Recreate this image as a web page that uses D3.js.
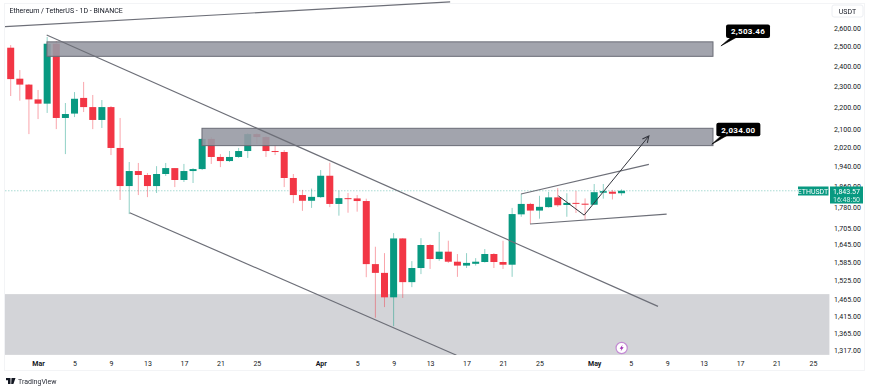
<!DOCTYPE html>
<html>
<head>
<meta charset="utf-8">
<script src="https://cdn.jsdelivr.net/npm/d3@7"></script>
<style>
  html, body { margin: 0; padding: 0; background: #fff; }
  svg { display: block; filter: blur(0.3px); }
  text { font-family: Roboto, sans-serif; fill: #131722; }
</style>
</head>
<body>
<svg id="chart" width="870" height="390"></svg>
<script>
// days are counted from Mar 1, prices are USDT
const firstDay = -3;
const opens = [2494,2336,2307,2236,2216,2515,2150,2170,2243,2200,2141,2200,2018,1862,1922,1906,1862,1910,1934,1886,1922,1930,2057,1980,1963,1980,2005,2078,2065,2005,2001,1894,1827,1805,1819,1903,1793,1815,1814,1804,1579,1550,1472,1667,1520,1566,1644,1596,1621,1587,1574,1580,1586,1613,1586,1577,1754,1793,1768,1781,1818,1789,1797,1794,1790,1836,1840,1834];
const highs = [2508,2379,2310,2281,2551,2530,2219,2271,2320,2257,2233,2205,2150,1959,1955,1914,1942,1955,1934,1951,1934,2061,2065,1992,2005,2018,2083,2083,2070,2031,2009,1910,1847,1852,1926,1956,1844,1835,1827,1813,1638,1616,1686,1668,1589,1668,1647,1690,1659,1613,1616,1599,1630,1616,1659,1778,1831,1797,1824,1839,1854,1834,1843,1814,1870,1870,1847,1849];
const lows = [2252,2230,2078,2145,2173,2100,1992,2154,2177,2100,2105,1988,1808,1755,1827,1819,1835,1902,1858,1878,1874,1926,1951,1938,1959,1976,1976,2035,1980,1988,1858,1796,1767,1778,1816,1781,1749,1760,1764,1536,1410,1442,1385,1470,1504,1546,1563,1590,1583,1537,1566,1574,1584,1566,1563,1537,1745,1719,1738,1779,1782,1745,1759,1733,1789,1813,1810,1825];
const closes = [2334,2307,2236,2216,2515,2150,2168,2239,2200,2141,2200,2018,1862,1922,1906,1862,1910,1934,1886,1922,1930,2057,1980,1963,1980,2005,2078,2065,2005,2001,1894,1827,1805,1820,1903,1793,1815,1813,1804,1579,1550,1472,1667,1520,1566,1644,1596,1621,1587,1574,1583,1587,1613,1586,1577,1755,1793,1768,1782,1818,1788,1797,1794,1790,1838,1842,1832,1843.57];

const priceTicks = [2600,2500,2400,2300,2200,2100,2020,1940,1860,1780,1705,1645,1585,1525,1465,1415,1365,1317];
const dayTicks = [0,4,8,12,16,20,24,31,35,39,43,47,51,55,61,65,69,73,77,81,85];
const dayLabels = ["Mar","5","9","13","17","21","25","Apr","5","9","13","17","21","25","May","5","9","13","17","21","25"];

const lastPrice = 1843.57;
// drawings as [day, price] pairs
const trendLines = [
  [[-3.63,2607],[45.2,2747]],
  [[0.95,2562],[68,1444]],
  [[10.05,1760],[45.9,1302.6]],
  [[52.97,1831],[67,1949.5]],
  [[53.96,1718.6],[68.95,1755]]
];
const pathArrow = [[57.06,1824],[59.9,1751],[67,2069.7]];
// [day0, day1, priceTop, priceBottom]
const zones = [[0.98,74.03,2525,2449],[17.98,74.03,2103.6,2028]];
const supportZone = [-3.63,86.8,1482,1303.5];
const callouts = [
  { label: "2,503.46", day: 74.9, price: 2503.46, boxDay: 75.46 },
  { label: "2,034.00", day: 73.9, price: 2034, boxDay: 74.4 }
];

const svg = d3.select("#chart");
const x = d3.scaleLinear().domain([-3, 85]).range([10.7, 813]);
const y = d3.scaleLog().domain([1317, 2600]).range([350, 28]);
const green = "#089981", red = "#f23645";

// pane frame
svg.append("rect").attr("x", 4.5).attr("y", 3.5).attr("width", 860).attr("height", 367)
  .attr("fill", "#fff").attr("stroke", "#f3f4f6");

const pane = svg.append("g");
pane.append("clipPath").attr("id", "paneClip").append("rect")
  .attr("x", 5).attr("y", 1).attr("width", 825).attr("height", 354);

pane.append("rect")
  .attr("x", x(supportZone[0])).attr("width", x(supportZone[1]) - x(supportZone[0]))
  .attr("y", y(supportZone[2])).attr("height", y(supportZone[3]) - y(supportZone[2]))
  .attr("fill", "#d3d4d8");

// last price line
pane.append("line").attr("x1", 5).attr("x2", 830).attr("y1", y(lastPrice)).attr("y2", y(lastPrice))
  .attr("stroke", green).attr("stroke-opacity", 0.5).attr("stroke-width", 0.7).attr("stroke-dasharray", "1.5 1.5");

// candles
const candles = d3.range(opens.length).map(i => ({
  day: firstDay + i, open: opens[i], high: highs[i], low: lows[i], close: closes[i]
}));
const colour = d => d.close >= d.open ? green : red;

pane.selectAll(".wick").data(candles).join("line")
  .attr("class", "wick")
  .attr("x1", d => x(d.day)).attr("x2", d => x(d.day))
  .attr("y1", d => y(d.high)).attr("y2", d => y(d.low))
  .attr("stroke", colour).attr("stroke-opacity", 0.45).attr("stroke-width", 1);

pane.selectAll(".body").data(candles).join("rect")
  .attr("class", "body")
  .attr("x", d => x(d.day) - 3.5).attr("width", 7)
  .attr("y", d => y(Math.max(d.open, d.close)))
  .attr("height", d => Math.max(1, Math.abs(y(d.open) - y(d.close))))
  .attr("fill", colour);

// zones
pane.selectAll(".zone").data(zones).join("rect")
  .attr("class", "zone")
  .attr("x", d => x(d[0])).attr("width", d => x(d[1]) - x(d[0]))
  .attr("y", d => y(d[2])).attr("height", d => y(d[3]) - y(d[2]))
  .attr("fill", "#989aa4").attr("fill-opacity", 0.9)
  .attr("stroke", "#6a6c76").attr("stroke-width", 1);

// trend lines
const lineGen = d3.line().x(d => x(d[0])).y(d => y(d[1]));
pane.append("g").attr("clip-path", "url(#paneClip)")
  .selectAll(".trend").data(trendLines).join("path")
  .attr("class", "trend")
  .attr("d", lineGen)
  .attr("fill", "none").attr("stroke", "#6d6f78").attr("stroke-width", 1.2);

// projected path with arrow head
svg.append("defs").append("marker")
  .attr("id", "arrowHead").attr("viewBox", "0 0 10 10").attr("refX", 9).attr("refY", 5)
  .attr("markerWidth", 8).attr("markerHeight", 8).attr("orient", "auto")
  .append("path").attr("d", "M1,1 L9,5 L1,9").attr("fill", "none").attr("stroke", "#33353d").attr("stroke-width", 1.3);
pane.append("path").attr("d", lineGen(pathArrow))
  .attr("fill", "none").attr("stroke", "#33353d").attr("stroke-width", 1)
  .attr("marker-end", "url(#arrowHead)");

// callouts
callouts.forEach(c => {
  const px = x(c.day), py = y(c.price);
  const boxX = x(c.boxDay), boxY = py - 21.5;
  const g = svg.append("g");
  g.append("path")
    .attr("d", `M${px},${py} L${boxX + 6},${boxY + 12} L${boxX + 12},${boxY + 12} Z`)
    .attr("fill", "#000").attr("stroke", "#000").attr("stroke-width", 0.6);
  g.append("rect").attr("x", boxX).attr("y", boxY).attr("width", 44).attr("height", 13.6)
    .attr("rx", 2).attr("fill", "#000");
  g.append("text").attr("x", boxX + 22).attr("y", boxY + 9.8).attr("text-anchor", "middle")
    .attr("font-size", 8).attr("font-weight", 700).attr("letter-spacing", 0.3)
    .style("fill", "#fff").text(c.label);
});

// axes
const yAxis = d3.axisRight(y).tickValues(priceTicks).tickSize(0).tickPadding(0)
  .tickFormat(d3.format(",.2f"));
const yG = svg.append("g").attr("transform", "translate(834,0)").call(yAxis);
yG.select(".domain").remove();
yG.selectAll("text").attr("font-size", 7).attr("font-family", "Roboto, sans-serif").style("fill", "#131722");

const xAxis = d3.axisBottom(x).tickValues(dayTicks).tickSize(0).tickPadding(0)
  .tickFormat((d, i) => dayLabels[i]);
const xG = svg.append("g").attr("transform", "translate(0,361)").call(xAxis);
xG.select(".domain").remove();
xG.selectAll("text").attr("font-size", 7).attr("font-family", "Roboto, sans-serif").style("fill", "#131722")
  .attr("font-weight", (d, i) => isNaN(+dayLabels[i]) ? 700 : 400);

// last price labels
svg.append("rect").attr("x", 798).attr("y", 186.5).attr("width", 30.5).attr("height", 9).attr("fill", green);
svg.append("text").attr("x", 813).attr("y", 193.5).attr("text-anchor", "middle").attr("font-size", 7)
  .style("fill", "#fff").text("ETHUSDT");
svg.append("rect").attr("x", 830).attr("y", 186.5).attr("width", 33).attr("height", 17).attr("fill", green);
svg.append("text").attr("x", 846.5).attr("y", 193.5).attr("text-anchor", "middle").attr("font-size", 7)
  .style("fill", "#fff").text(d3.format(",.2f")(lastPrice));
svg.append("text").attr("x", 846.5).attr("y", 201.5).attr("text-anchor", "middle").attr("font-size", 7)
  .style("fill", "#d5f0ea").text("16:48:50");

// title, currency, branding
svg.append("text").attr("x", 9.5).attr("y", 12.5).attr("font-size", 7).text("Ethereum / TetherUS - 1D - BINANCE");
svg.append("rect").attr("x", 832).attr("y", 5).attr("width", 31).attr("height", 12).attr("rx", 2)
  .attr("fill", "#fff").attr("stroke", "#eceef2");
svg.append("text").attr("x", 847.5).attr("y", 13.5).attr("text-anchor", "middle").attr("font-size", 7).text("USDT");

// TradingView mark
svg.append("path").attr("d", "M6,378 H10.5 V384 H8 V380.3 H6 Z M11.5,378 H15.5 L13.4,384 H11.2 Z").attr("fill", "#131722");
svg.append("text").attr("x", 18).attr("y", 384).attr("font-size", 7).style("fill", "#2a2e39").text("TradingView");

// bolt marker
const bolt = svg.append("g").attr("transform", `translate(${x(65) - 9},348)`);
bolt.append("circle").attr("r", 5.6).attr("fill", "#fff").attr("stroke", "#c48bd4").attr("stroke-width", 1.2);
bolt.append("path").attr("d", "M1,-3.2 L-2,0.7 L-0.2,0.7 L-1,3.2 L2,-0.8 L0.2,-0.8 Z").attr("fill", "#9c27b0");
</script>
</body>
</html>
